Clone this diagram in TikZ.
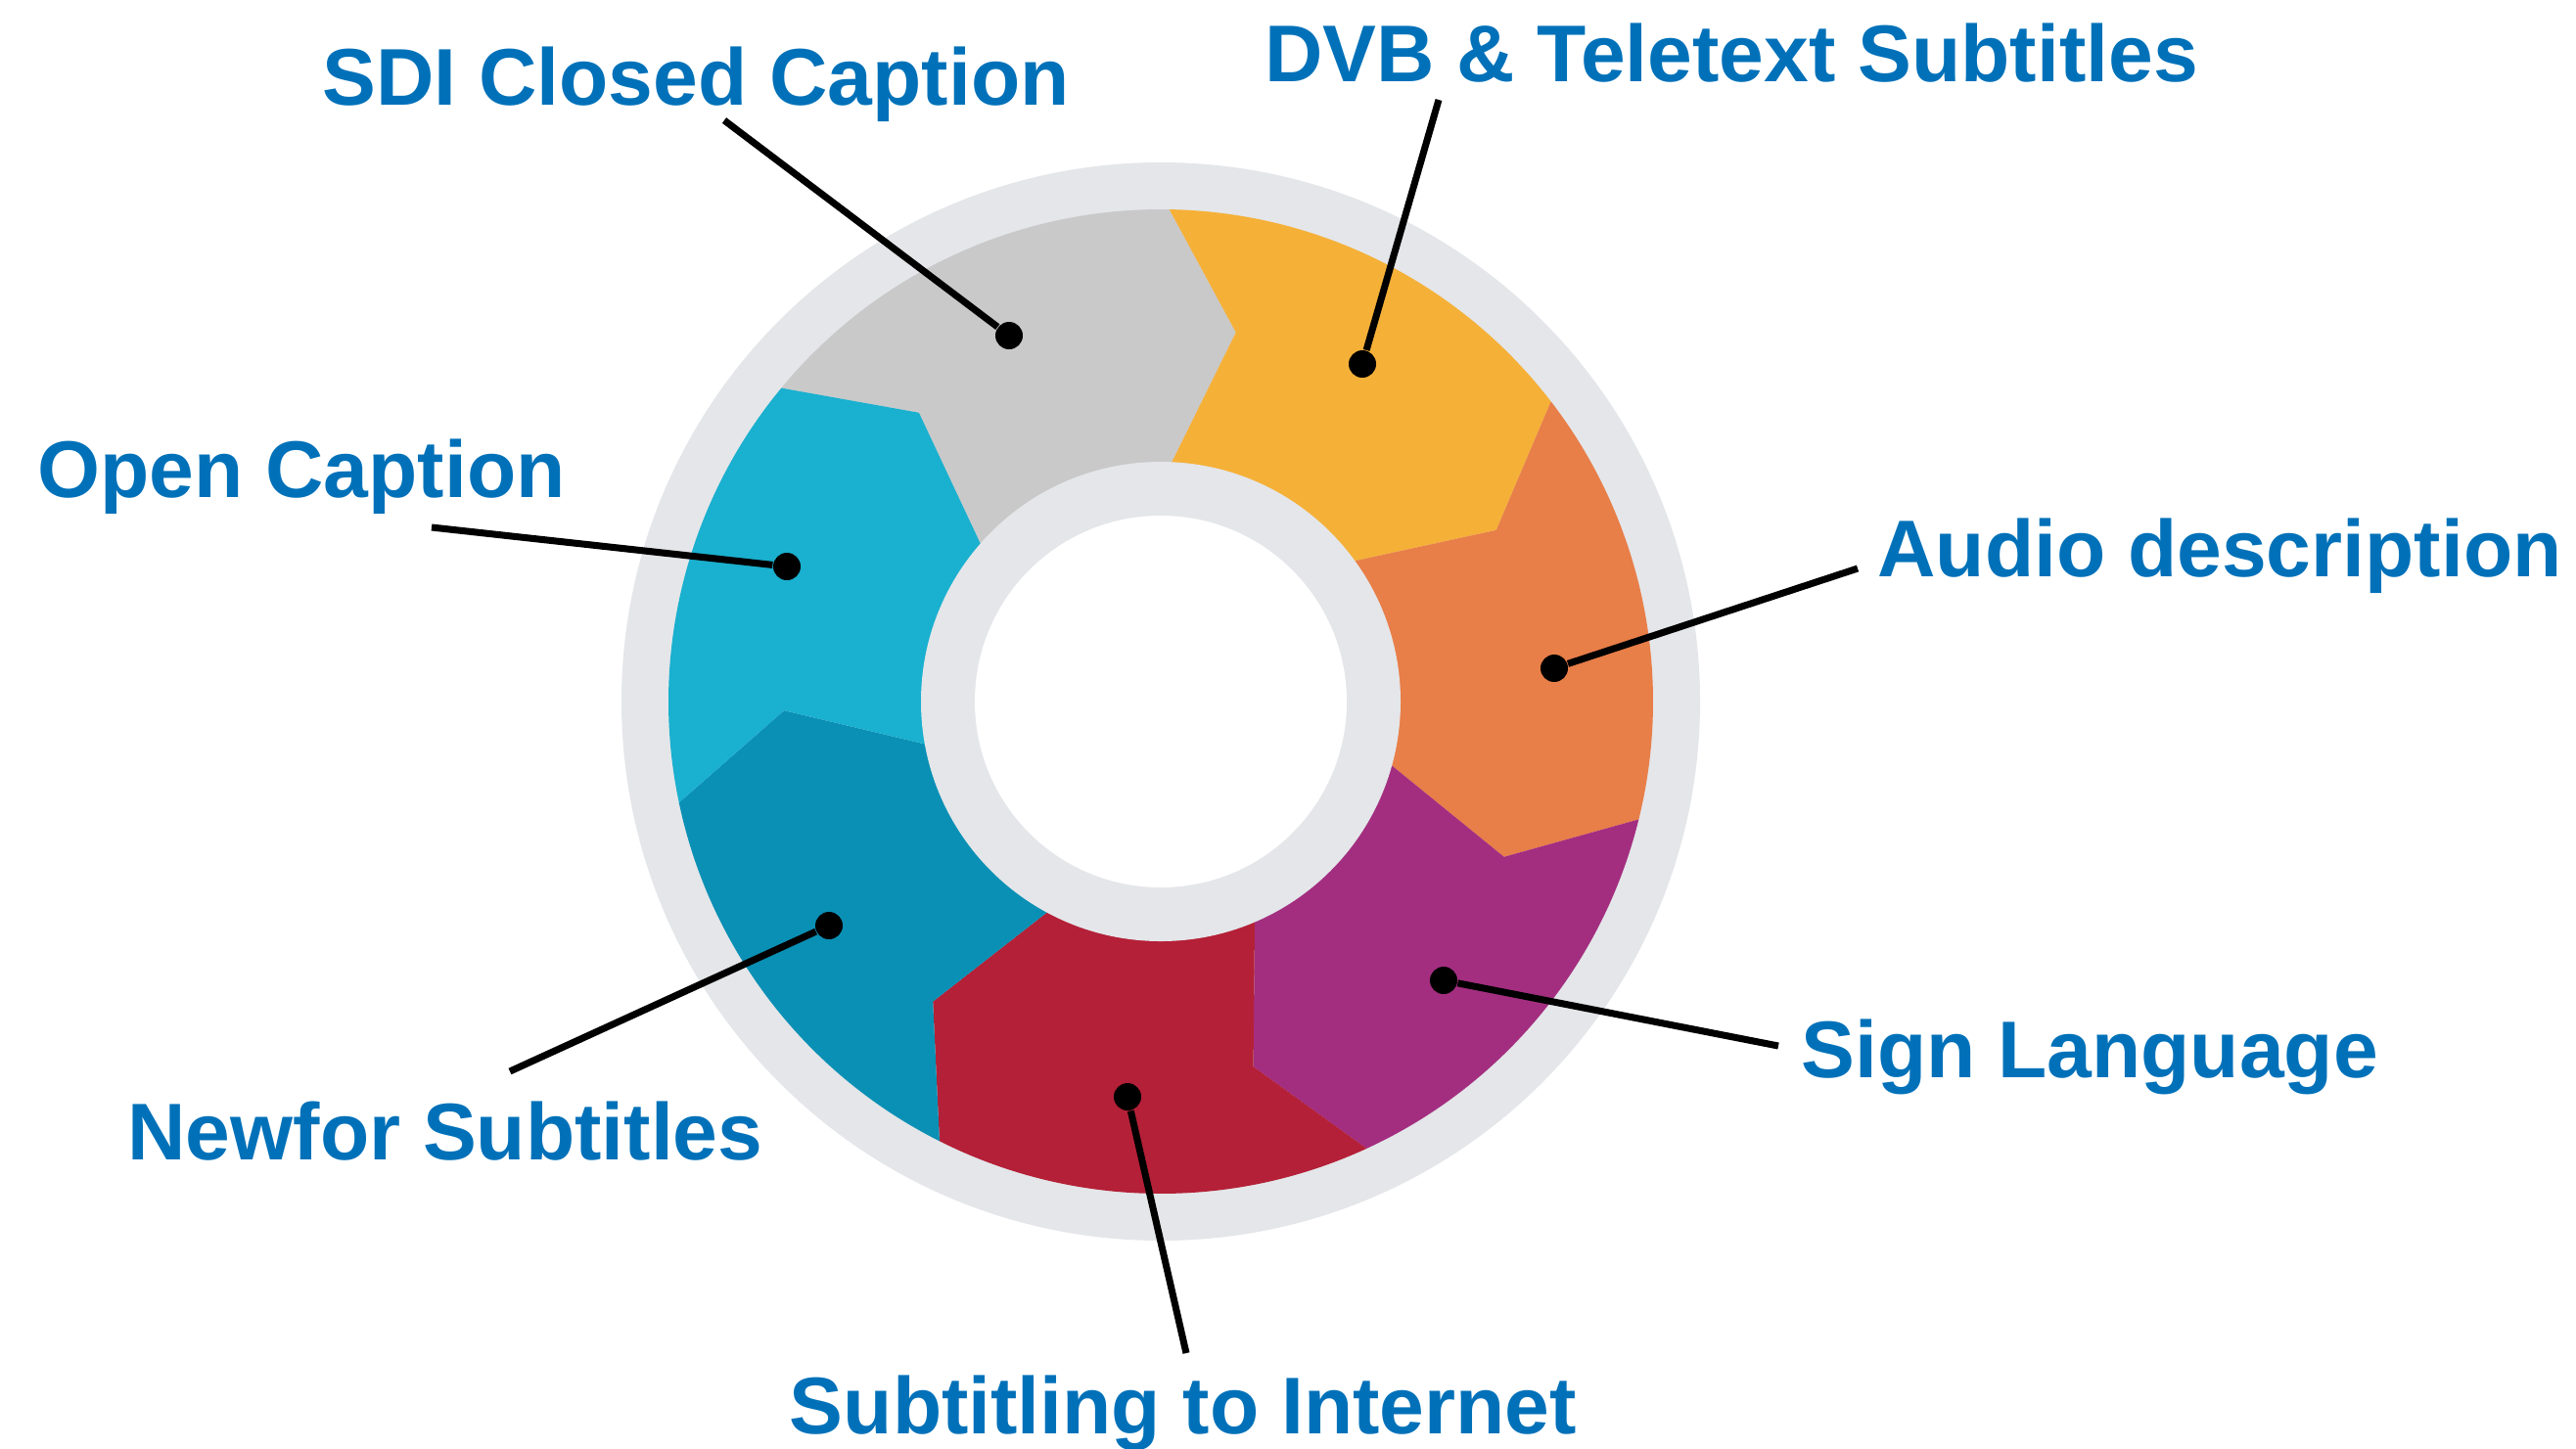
\documentclass[tikz,border=0pt]{standalone}
\usepackage{fontspec}
\setmainfont{Liberation Sans}
\usepackage{tikz}

\definecolor{capblue}{RGB}{0,113,185}
\definecolor{ringgray}{RGB}{228,230,233}
\definecolor{seggray}{RGB}{201,201,201}
\definecolor{segyellow}{RGB}{245,176,56}
\definecolor{segorange}{RGB}{232,126,72}
\definecolor{segpurple}{RGB}{163,46,128}
\definecolor{segred}{RGB}{180,32,55}
\definecolor{segdarkblue}{RGB}{10,144,181}
\definecolor{segcyan}{RGB}{26,176,207}

\tikzset{
	lbl/.style={font=\bfseries\fontsize{23.4}{28}\selectfont, text=capblue, inner sep=0pt, anchor=base},
	dot/.style={shape=circle, fill=black, inner sep=0pt, minimum size=0.28cm}
}

\begin{document}
\begin{tikzpicture}
	\useasboundingbox (0,0) rectangle (26.32,-14.80);
	
	\begin{scope}[shift={(11.86,-7.17)}]
		\fill[ringgray] (0,0) circle (5.51);
		\foreach \a/\col in {89/seggray, 37.57/segyellow, -13.86/segorange, -65.29/segpurple, -116.71/segred, -168.14/segdarkblue, 140.43/segcyan}
		\fill[\col] ({\a+51.43}:5.03) arc[start angle={\a+51.43}, end angle=\a, radius=5.03]
			-- ({\a-10.5}:3.85) -- (\a:2.3)
			arc[start angle=\a, end angle={\a+51.43}, radius=2.3]
			-- ({\a+40.93}:3.85) -- cycle;
		\fill[ringgray] (0,0) circle (2.45);
		\fill[white] (0,0) circle (1.90);
	\end{scope}
	
	\node[lbl] (sdi)    at (7.11, -1.07)  {SDI Closed Caption};
	\node[lbl] (dvb)    at (17.69, -0.83) {DVB \& Teletext Subtitles};
	\node[lbl] (open)   at (3.08, -5.08)  {Open Caption};
	\node[lbl] (audio)  at (22.68, -5.89) {Audio description};
	\node[lbl] (sign)   at (21.35, -11.01) {Sign Language};
	\node[lbl] (newfor) at (4.55, -11.85) {Newfor Subtitles};
	\node[lbl] (inet)   at (12.09, -14.65) {Subtitling to Internet};
	
	\node[dot] (sdi-dot)    at (10.31, -3.43) {};
	\node[dot] (dvb-dot)    at (13.92, -3.72) {};
	\node[dot] (open-dot)   at (8.04, -5.79)  {};
	\node[dot] (audio-dot)  at (15.88, -6.83) {};
	\node[dot] (sign-dot)   at (14.75, -10.02) {};
	\node[dot] (newfor-dot) at (8.47, -9.46)  {};
	\node[dot] (inet-dot)   at (11.52, -11.21) {};
	
	\coordinate (sdi-end)    at (7.40, -1.23);
	\coordinate (dvb-end)    at (14.70, -1.02);
	\coordinate (open-end)   at (4.41, -5.39);
	\coordinate (audio-end)  at (18.98, -5.81);
	\coordinate (sign-end)   at (18.17, -10.69);
	\coordinate (newfor-end) at (5.21, -10.95);
	\coordinate (inet-end)   at (12.12, -13.83);
	
	\path[-, line width=2pt] (sdi-dot) edge (sdi-end);
	\path[-, line width=2pt] (dvb-dot) edge (dvb-end);
	\path[-, line width=2pt] (open-dot) edge (open-end);
	\path[-, line width=2pt] (audio-dot) edge (audio-end);
	\path[-, line width=2pt] (sign-dot) edge (sign-end);
	\path[-, line width=2pt] (newfor-dot) edge (newfor-end);
	\path[-, line width=2pt] (inet-dot) edge (inet-end);
	
\end{tikzpicture}
\end{document}
